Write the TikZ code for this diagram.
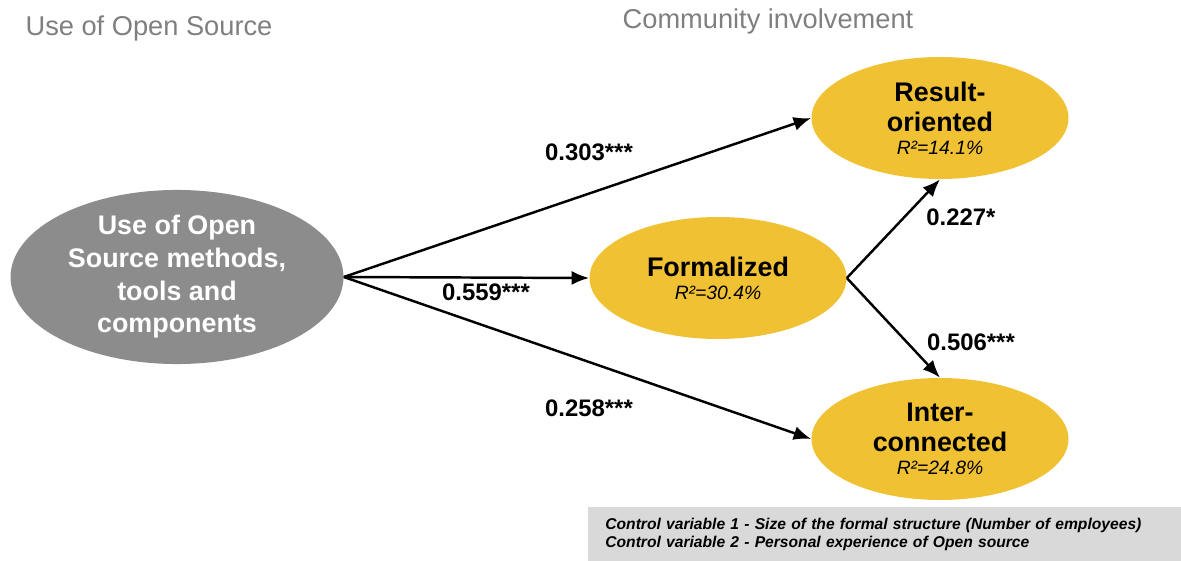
\documentclass[tikz,border=0pt]{standalone}
\usepackage{fontspec}
\setmainfont{Liberation Sans}
\usetikzlibrary{shapes.geometric,arrows.meta}
\definecolor{oyellow}{HTML}{F0C132}
\definecolor{ogrey}{HTML}{8C8C8C}
\definecolor{otitle}{HTML}{7F7F7F}
\definecolor{obox}{HTML}{D9D9D9}
\newcommand\rsq[1]{{\fontsize{11}{13}\selectfont\mdseries\itshape #1}}
\begin{document}
\begin{tikzpicture}[x=0.02cm,y=-0.02cm,
  construct/.style={ellipse,fill=oyellow,inner sep=0pt,minimum width=5.14cm,minimum height=2.44cm,align=center,font=\fontsize{15.3}{17}\selectfont\bfseries},
  source/.style={ellipse,fill=ogrey,text=white,inner sep=0pt,minimum width=6.66cm,minimum height=3.34cm,align=center,font=\fontsize{15.3}{18.6}\selectfont\bfseries},
  effect/.style={line width=1.4pt,-{Latex[length=10pt,width=8pt]}},
  coef/.style={font=\fontsize{13.6}{16}\selectfont\bfseries},
  heading/.style={text=otitle,font=\fontsize{15.5}{18}\selectfont},
  ctrlbox/.style={fill=obox,anchor=north west,minimum width=11.86cm,minimum height=1.08cm,inner xsep=0.34cm,text width=11.18cm,align=left,font=\fontsize{8.9}{10.2}\selectfont\bfseries\itshape}]
\useasboundingbox (0,0) rectangle (1181,561);

\node[heading] (usehead) at (149,28) {Use of Open Source};
\node[heading] (commhead) at (768,21) {Community involvement};

\node[source] (use) at (177,277) {Use of Open\\Source methods,\\tools and\\components};

\node[construct] (res) at (940,118) {Result-\\oriented\\[-4pt]\rsq{R²=14.1\%}};
\node[construct] (form) at (718,278) {Formalized\\[-4pt]\rsq{R²=30.4\%}};
\node[construct] (inter) at (940,439) {Inter-\\connected\\[-4pt]\rsq{R²=24.8\%}};

\draw[effect] (use.east) -- (res.west);
\draw[effect] (use.east) -- (form.west);
\draw[effect] (use.east) -- (inter.west);
\draw[effect] (form.east) -- (res.south);
\draw[effect] (form.east) -- (inter.north);

\node[coef] (c303) at (589,152) {0.303***};
\node[coef] (c559) at (486,292) {0.559***};
\node[coef] (c258) at (589,408) {0.258***};
\node[coef] (c227) at (961,217) {0.227*};
\node[coef] (c506) at (971,342) {0.506***};

\node[ctrlbox] (ctrl) at (588,507) {Control variable 1 - Size of the formal structure (Number of employees)\\Control variable 2 - Personal experience of Open source};
\end{tikzpicture}
\end{document}
